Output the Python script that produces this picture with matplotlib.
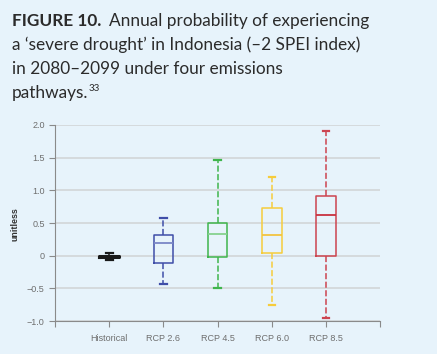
import matplotlib
matplotlib.use("Agg")
import matplotlib.pyplot as plt

# scenarios and box statistics
labels = ["Historical", "RCP 2.6", "RCP 4.5", "RCP 6.0", "RCP 8.5"]
whis_lo = [-0.07, -0.43, -0.49, -0.75, -0.95]
q1 = [-0.025, -0.11, -0.015, 0.045, -0.005]
median = [-0.01, 0.20, 0.33, 0.31, 0.62]
q3 = [0.0, 0.31, 0.505, 0.735, 0.91]
whis_hi = [0.045, 0.57, 1.47, 1.21, 1.90]
colors = ["#1a1a1a", "#3f4ea8", "#3fb54d", "#f6cc3c", "#cc4450"]
med_colors = ["#1a1a1a", "#7a86c6", "#86d18f", "#f3c440", "#c9323f"]

bg = "#e7f3fb"
fig = plt.figure(figsize=(4.37, 3.54), dpi=100, facecolor=bg)
ax = fig.add_axes([0.126, 0.093, 0.744, 0.554], facecolor=bg)

stats = []
for i in range(len(labels)):
    stats.append(dict(whislo=whis_lo[i], q1=q1[i], med=median[i],
                      q3=q3[i], whishi=whis_hi[i], fliers=[]))

for i, s in enumerate(stats):
    c = colors[i]
    lw = 2.2 if i == 0 else 1.1
    ax.bxp([s], positions=[i + 1], widths=0.36, showfliers=False,
           boxprops=dict(color=c, linewidth=lw),
           whiskerprops=dict(color=c, linewidth=1.1, linestyle=(0, (4, 1.6))),
           capprops=dict(color=c, linewidth=1.6),
           medianprops=dict(color=med_colors[i], linewidth=1.3),
           capwidths=0.12)

ax.set_xlim(0, 6)
ax.set_ylim(-1, 2)
ax.set_xticks(range(7))
ax.set_xticklabels([""] + labels + [""])
ax.set_yticks([-1, -0.5, 0, 0.5, 1, 1.5, 2])
ax.set_yticklabels(["\u22121.0", "\u22120.5", "0", "0.5", "1.0", "1.5", "2.0"])
ax.tick_params(colors="#8a8a8a", labelcolor="#6e6e6e", labelsize=6.5,
               length=4, width=0.8)
ax.tick_params(axis="x", pad=5)
for lab in ax.get_xticklabels() + ax.get_yticklabels():
    lab.set_family("Liberation Sans")
ax.grid(axis="y", color="#d2d5d8", linewidth=1.2)
ax.set_axisbelow(True)
for side in ["top", "right"]:
    ax.spines[side].set_visible(False)
for side in ["left", "bottom"]:
    ax.spines[side].set_color("#8a8a8a")
    ax.spines[side].set_linewidth(0.8)

fig.text(15 / 437, 1 - 224 / 354, "unitless", rotation=90, ha="center",
         va="center", fontsize=6.4, fontweight="bold", color="#333333",
         family="Liberation Sans")

# title block
tcol = "#2b2b2b"
fs = 12.4
W, H = 437, 354
renderer = fig.canvas.get_renderer()
x0 = 12 / W
t = fig.text(x0, 1 - 26 / H, "FIGURE 10.", fontsize=fs, fontweight="bold",
             color=tcol, family="Lato", va="baseline")
bb = t.get_window_extent(renderer)
fig.text(bb.x1 / W + 8 / W, 1 - 26 / H, "Annual probability of experiencing",
         fontsize=fs, color=tcol, family="Lato", va="baseline")
fig.text(x0, 1 - 50 / H, "a \u2018severe drought\u2019 in Indonesia (\u20132 SPEI index)",
         fontsize=fs, color=tcol, family="Lato", va="baseline")
fig.text(x0, 1 - 74 / H, "in 2080\u20132099 under four emissions",
         fontsize=fs, color=tcol, family="Lato", va="baseline")
t = fig.text(x0, 1 - 98 / H, "pathways.", fontsize=fs, color=tcol,
             family="Lato", va="baseline")
bb = t.get_window_extent(renderer)
fig.text(bb.x1 / W + 0.5 / W, 1 - 91 / H, "33", fontsize=7, color=tcol,
         family="Lato", va="baseline")

fig.savefig("out.png", dpi=100, facecolor=bg)
